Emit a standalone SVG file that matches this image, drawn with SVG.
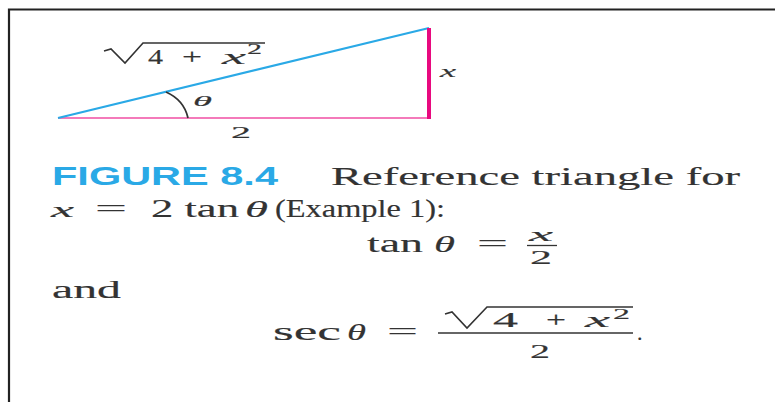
<svg xmlns="http://www.w3.org/2000/svg" width="775" height="402" viewBox="0 0 775 402">
<style>
.s{font-family:"Liberation Serif","DejaVu Serif",serif;fill:#333;stroke:#333;stroke-width:0.15}
.i{font-style:italic}
.ln{stroke:#333;fill:none}
</style>
<rect width="775" height="402" fill="#fff"/>
<path d="M9,402 V9.5 H775" fill="none" stroke="#222" stroke-width="2.2"/>
<g id="connectors">
<line x1="58" y1="118" x2="431" y2="118" stroke="#f04ea3" stroke-width="1.6"/>
<line x1="58" y1="118" x2="429" y2="28" stroke="#2aa9e6" stroke-width="2.2"/>
<line x1="429" y1="28" x2="429" y2="119" stroke="#e8097f" stroke-width="4"/>
<path d="M166,92 Q184,100 188,118" class="ln" stroke-width="1.8"/>
</g>
<g id="labels">
<path d="M104,51 L111,49 L125,63 L143,43 H265" class="ln" stroke-width="1.6"/>
<text class="s" font-size="20" x="148" y="64" textLength="15" lengthAdjust="spacingAndGlyphs">4</text>
<text class="s" font-size="20" x="182" y="64" textLength="20" lengthAdjust="spacingAndGlyphs">+</text>
<text class="s i" font-size="20" x="222" y="64" textLength="24" lengthAdjust="spacingAndGlyphs">x</text>
<text class="s" font-size="14" x="247" y="54" textLength="15" lengthAdjust="spacingAndGlyphs">2</text>
<text class="s i" font-size="15" x="193" y="106" textLength="19" lengthAdjust="spacingAndGlyphs">θ</text>
<text class="s i" font-size="16" x="440" y="77" textLength="16" lengthAdjust="spacingAndGlyphs">x</text>
<text class="s" font-size="16" x="231" y="138" textLength="20" lengthAdjust="spacingAndGlyphs">2</text>
</g>
<g id="caption">
<text x="52" y="185" font-family="Liberation Sans,Arial,sans-serif" font-weight="bold" font-size="25" fill="#2aa9e6" textLength="226" lengthAdjust="spacingAndGlyphs">FIGURE 8.4</text>
<text class="s" font-size="25" x="331" y="185" textLength="409" lengthAdjust="spacingAndGlyphs">Reference triangle for</text>
<text class="s i" font-size="22" x="51" y="217" textLength="23" lengthAdjust="spacingAndGlyphs">x</text>
<text class="s" font-size="25" x="95" y="217" textLength="32" lengthAdjust="spacingAndGlyphs">=</text>
<text class="s" font-size="25" x="151" y="217" textLength="88" lengthAdjust="spacingAndGlyphs">2 tan</text>
<text class="s i" font-size="24" x="245" y="217" textLength="23" lengthAdjust="spacingAndGlyphs">θ</text>
<text class="s" font-size="25" x="275" y="217" textLength="170" lengthAdjust="spacingAndGlyphs">(Example 1):</text>
<text class="s" font-size="25" x="367" y="252" textLength="56" lengthAdjust="spacingAndGlyphs">tan</text>
<text class="s i" font-size="24" x="434" y="252" textLength="21" lengthAdjust="spacingAndGlyphs">θ</text>
<text class="s" font-size="25" x="477" y="252" textLength="31" lengthAdjust="spacingAndGlyphs">=</text>
<text class="s i" font-size="19" x="529" y="241" textLength="24" lengthAdjust="spacingAndGlyphs">x</text>
<line x1="527" y1="245.5" x2="557" y2="245.5" class="ln" stroke-width="1.3"/>
<text class="s" font-size="19" x="530" y="264" textLength="22" lengthAdjust="spacingAndGlyphs">2</text>
<text class="s" font-size="25" x="52" y="298" textLength="69" lengthAdjust="spacingAndGlyphs">and</text>
<text class="s" font-size="25" x="273" y="340" textLength="68" lengthAdjust="spacingAndGlyphs">sec</text>
<text class="s i" font-size="24" x="347" y="340" textLength="19" lengthAdjust="spacingAndGlyphs">θ</text>
<text class="s" font-size="25" x="387" y="340" textLength="31" lengthAdjust="spacingAndGlyphs">=</text>
<path d="M445,314 L452,312 L467,328 L487,307 H633" class="ln" stroke-width="1.6"/>
<text class="s" font-size="21" x="493" y="327" textLength="25" lengthAdjust="spacingAndGlyphs">4</text>
<text class="s" font-size="21" x="546" y="327" textLength="20" lengthAdjust="spacingAndGlyphs">+</text>
<text class="s i" font-size="21" x="585" y="327" textLength="25" lengthAdjust="spacingAndGlyphs">x</text>
<text class="s" font-size="14" x="613" y="319" textLength="17" lengthAdjust="spacingAndGlyphs">2</text>
<line x1="438" y1="333" x2="633" y2="333" class="ln" stroke-width="1.4"/>
<text class="s" font-size="19" x="530" y="358" textLength="20" lengthAdjust="spacingAndGlyphs">2</text>
<text class="s" font-size="22" x="637" y="340">.</text>
</g>
</svg>
